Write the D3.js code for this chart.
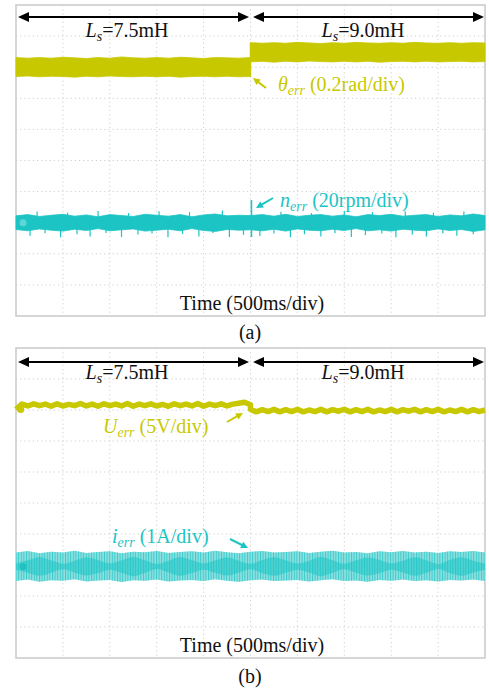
<!DOCTYPE html>
<html><head><meta charset="utf-8">
<script src="https://cdn.jsdelivr.net/npm/d3@7"></script>
<style>body{margin:0;background:#fff}svg{display:block}</style>
</head><body><script>
// ---------- DATA (values in oscilloscope divisions; x = time div, 500 ms/div) ----------
const tA = [0,0.25,0.5,0.75,1,1.25,1.5,1.75,2,2.25,2.5,2.75,3,3.25,3.5,3.75,4,4.25,4.5,4.75,5];
const tB = [5,5.25,5.5,5.75,6,6.25,6.5,6.75,7,7.25,7.5,7.75,8,8.25,8.5,8.75,9,9.25,9.5,9.75,10];
const tFull = tA.concat(tB.slice(1));
const tFineA = [0,0.125,0.25,0.375,0.5,0.625,0.75,0.875,1,1.125,1.25,1.375,1.5,1.625,1.75,1.875,2,2.125,2.25,2.375,2.5,2.625,2.75,2.875,3,3.125,3.25,3.375,3.5,3.625,3.75,3.875,4,4.125,4.25,4.375,4.5,4.625,4.75,4.875,5];
const tFineB = [5,5.125,5.25,5.375,5.5,5.625,5.75,5.875,6,6.125,6.25,6.375,6.5,6.625,6.75,6.875,7,7.125,7.25,7.375,7.5,7.625,7.75,7.875,8,8.125,8.25,8.375,8.5,8.625,8.75,8.875,9,9.125,9.25,9.375,9.5,9.625,9.75,9.875,10];

// (a) theta_err envelope, Ls = 7.5 mH then 9.0 mH
const thetaHiA = [3.31,3.29,3.31,3.29,3.32,3.30,3.28,3.31,3.29,3.33,3.30,3.29,3.31,3.29,3.32,3.30,3.28,3.31,3.30,3.29,3.31];
const thetaLoA = [2.70,2.72,2.69,2.71,2.70,2.68,2.71,2.69,2.72,2.70,2.69,2.71,2.69,2.71,2.68,2.70,2.71,2.69,2.71,2.69,2.70];
const thetaHiB = [3.79,3.77,3.79,3.77,3.80,3.78,3.76,3.79,3.77,3.80,3.78,3.77,3.79,3.77,3.80,3.78,3.77,3.79,3.77,3.79,3.78];
const thetaLoB = [3.17,3.19,3.16,3.19,3.17,3.20,3.18,3.17,3.19,3.17,3.19,3.16,3.18,3.19,3.17,3.19,3.17,3.18,3.19,3.17,3.18];

// (a) n_err: trace body envelope plus short spikes
const nHi = [-1.78,-1.74,-1.80,-1.76,-1.73,-1.79,-1.75,-1.81,-1.74,-1.77,-1.80,-1.73,-1.76,-1.79,-1.74,-1.81,-1.75,-1.72,-1.78,-1.76,-1.77,
             -1.74,-1.79,-1.73,-1.80,-1.76,-1.74,-1.79,-1.75,-1.81,-1.74,-1.77,-1.73,-1.79,-1.76,-1.74,-1.80,-1.75,-1.78,-1.72,-1.77];
const nLo = [-2.22,-2.26,-2.20,-2.24,-2.27,-2.21,-2.25,-2.19,-2.26,-2.23,-2.20,-2.27,-2.24,-2.21,-2.26,-2.19,-2.25,-2.28,-2.22,-2.24,-2.23,
             -2.26,-2.21,-2.27,-2.20,-2.24,-2.26,-2.21,-2.25,-2.19,-2.26,-2.23,-2.27,-2.21,-2.24,-2.26,-2.20,-2.25,-2.22,-2.28,-2.23];
const nDownT = [0.3,0.62,0.95,1.3,1.58,1.92,2.25,2.6,2.9,3.24,3.55,3.9,4.2,4.55,4.85,5.2,5.5,5.85,6.15,6.5,6.8,7.15,7.45,7.8,8.1,8.45,8.75,9.1,9.4,9.75];
const nDownV = [-2.42,-2.34,-2.47,-2.37,-2.44,-2.33,-2.46,-2.38,-2.35,-2.47,-2.36,-2.44,-2.33,-2.46,-2.39,-2.43,-2.35,-2.47,-2.37,-2.44,-2.34,-2.46,-2.40,-2.35,-2.47,-2.38,-2.44,-2.34,-2.42,-2.37];
const nUpT = [0.45,1.1,1.75,2.4,3.05,3.7,4.4,5.65,6.3,7.0,7.6,8.3,8.9,9.55];
const nUpV = [-1.64,-1.68,-1.62,-1.69,-1.63,-1.66,-1.61,-1.65,-1.69,-1.62,-1.66,-1.63,-1.68,-1.64];
const nSpikeT = [5.02];
const nSpikeHi = [-1.27];
const nSpikeLo = [-2.46];

// (b) U_err trace centre
const uA = [3.02,3.19,3.13,3.20,3.14,3.19,3.12,3.20,3.13,3.18,3.14,3.21,3.13,3.19,3.12,3.20,3.14,3.19,3.13,3.21,3.12,3.19,3.14,3.20,3.13,3.18,3.12,3.20,3.14,3.19,3.13,3.21,3.12,3.19,3.14,3.20,3.13,3.19,3.22,3.25,3.17];
const uB = [3.02,2.94,3.01,2.95,3.02,2.94,3.01,2.95,3.02,2.94,3.00,2.95,3.02,2.94,3.01,2.96,3.02,2.94,3.01,2.95,3.02,2.94,3.00,2.95,3.02,2.94,3.01,2.96,3.02,2.94,3.01,2.95,3.02,2.94,3.00,2.95,3.02,2.94,3.01,2.95,3.00];

// (b) i_err envelope (outer) and beating inner band half-width
const iHi = [-1.60,-1.55,-1.62,-1.57,-1.60,-1.54,-1.61,-1.58,-1.56,-1.62,-1.57,-1.59,-1.55,-1.61,-1.58,-1.56,-1.60,-1.54,-1.59,-1.62,-1.57,-1.55,-1.60,-1.58,-1.56,-1.61,-1.57,-1.54,-1.60,-1.58,-1.62,-1.56,-1.59,-1.55,-1.60,-1.57,-1.61,-1.56,-1.58,-1.55,-1.60];
const iLo = [-2.52,-2.47,-2.54,-2.49,-2.51,-2.46,-2.53,-2.50,-2.48,-2.55,-2.49,-2.51,-2.47,-2.53,-2.50,-2.48,-2.52,-2.46,-2.51,-2.54,-2.49,-2.47,-2.52,-2.50,-2.48,-2.53,-2.49,-2.46,-2.52,-2.50,-2.54,-2.48,-2.51,-2.47,-2.52,-2.49,-2.53,-2.48,-2.50,-2.47,-2.52];
const iMid = -2.05;
const iInnerW = [0.10,0.20,0.30,0.20,0.09,0.19,0.29,0.21,0.10,0.20,0.31,0.20,0.08,0.19,0.30,0.21,0.10,0.20,0.29,0.19,0.09,0.21,0.30,0.20,0.10,0.19,0.31,0.20,0.09,0.20,0.29,0.21,0.10,0.19,0.30,0.20,0.08,0.21,0.30,0.19,0.10];

// labels
const segLabels = ["7.5mH","9.0mH"];
const panelTags = ["(a)","(b)"];
const timeLabel = "Time (500ms/div)";

// ---------- DRAWING ----------
const YEL = "#c8c800", CYN = "#1cc4c4", CYN_L = "#8fe0e0";
const FONT = "'Liberation Serif','Times New Roman',serif";
const svg = d3.select("body").append("svg").attr("width",489).attr("height",694);
const defs = svg.append("defs");
const pat = defs.append("pattern").attr("id","stripes").attr("patternUnits","userSpaceOnUse")
  .attr("width",2.6).attr("height",10);
pat.append("rect").attr("width",1.0).attr("height",10).attr("fill","#3acbcb");

function arrowHead(g,x1,y1,x2,y2,color,len,half){
  const a=Math.atan2(y2-y1,x2-x1), c=Math.cos(a), s=Math.sin(a);
  const bx=x2-len*c, by=y2-len*s;
  g.append("path").attr("d",`M${x2},${y2}L${bx-half*s},${by+half*c}L${bx+half*s},${by-half*c}Z`).attr("fill",color);
}
function arrow(g,x1,y1,x2,y2,color,w,len,half,both){
  const a=Math.atan2(y2-y1,x2-x1), c=Math.cos(a), s=Math.sin(a);
  const sx = both? x1+len*0.8*c : x1, sy = both? y1+len*0.8*s : y1;
  g.append("line").attr("x1",sx).attr("y1",sy).attr("x2",x2-len*0.8*c).attr("y2",y2-len*0.8*s)
    .attr("stroke",color).attr("stroke-width",w);
  arrowHead(g,x1,y1,x2,y2,color,len,half);
  if(both) arrowHead(g,x2,y2,x1,y1,color,len,half);
}
function lsLabel(g,x,y,val){
  const t=g.append("text").attr("x",x).attr("y",y).attr("text-anchor","middle")
    .attr("font-family",FONT).attr("font-size",20).attr("fill","#111");
  t.append("tspan").attr("font-style","italic").text("L");
  t.append("tspan").attr("font-style","italic").attr("font-size",14).attr("dy",4).text("s");
  t.append("tspan").attr("dy",-4).text("="+val);
}
function subLabel(g,x,y,sym,sub,rest,color){
  const t=g.append("text").attr("x",x).attr("y",y).attr("font-family",FONT).attr("font-size",20).attr("fill",color);
  t.append("tspan").attr("font-style","italic").text(sym);
  t.append("tspan").attr("font-style","italic").attr("font-size",14).attr("dy",4).text(sub);
  t.append("tspan").attr("dy",-4).text(" "+rest);
}

function panel(y0,y1){
  const g = svg.append("g");
  const x = d3.scaleLinear().domain([0,10]).range([16,485]);
  const y = d3.scaleLinear().domain([-5,5]).range([y1,y0]);
  g.append("g").selectAll("line").data(d3.range(1,10)).join("line")
    .attr("x1",d=>x(d)).attr("x2",d=>x(d)).attr("y1",y0).attr("y2",y1)
    .attr("stroke","#cfcfcf").attr("stroke-width",1).attr("stroke-dasharray","1.2,3");
  g.append("g").selectAll("line").data(d3.range(-4,5)).join("line")
    .attr("y1",d=>y(d)).attr("y2",d=>y(d)).attr("x1",16).attr("x2",485)
    .attr("stroke","#cfcfcf").attr("stroke-width",1).attr("stroke-dasharray","1.2,3");
  g.append("rect").attr("x",16).attr("y",y0).attr("width",469).attr("height",y1-y0)
    .attr("fill","none").attr("stroke","#cccccc").attr("stroke-width",1.6);
  return {g,x,y};
}

// ===== Panel (a) =====
{
  const {g,x,y} = panel(5,316);
  const area = d3.area().x(d=>x(d.t)).y0(d=>y(d.lo)).y1(d=>y(d.hi));
  const thA = tA.map((t,i)=>({t,hi:thetaHiA[i],lo:thetaLoA[i]}));
  const thB = tB.map((t,i)=>({t,hi:thetaHiB[i],lo:thetaLoB[i]}));
  [thA,thB].forEach(d=>g.append("path").attr("d",area(d)).attr("fill",YEL).attr("stroke",YEL).attr("stroke-width",0.8));
  g.append("line").attr("x1",x(5)).attr("x2",x(5)).attr("y1",y(thetaHiB[0])).attr("y2",y(thetaLoA[20]))
    .attr("stroke",YEL).attr("stroke-width",1.5);

  const nd = tFull.map((t,i)=>({t,hi:nHi[i],lo:nLo[i]}));
  g.append("path").attr("d",area(nd)).attr("fill",CYN).attr("stroke",CYN).attr("stroke-width",0.8);
  const mid = -2.0;
  nDownT.forEach((t,i)=>g.append("line").attr("x1",x(t)).attr("x2",x(t)).attr("y1",y(mid)).attr("y2",y(nDownV[i]))
    .attr("stroke",CYN).attr("stroke-width",1.2));
  nUpT.forEach((t,i)=>g.append("line").attr("x1",x(t)).attr("x2",x(t)).attr("y1",y(mid)).attr("y2",y(nUpV[i]))
    .attr("stroke",CYN).attr("stroke-width",1.2));
  nSpikeT.forEach((t,i)=>g.append("line").attr("x1",x(t)).attr("x2",x(t)).attr("y1",y(nSpikeHi[i])).attr("y2",y(nSpikeLo[i]))
    .attr("stroke",CYN).attr("stroke-width",1.6));
  g.append("circle").attr("cx",x(0.15)).attr("cy",y(mid)).attr("r",3.5).attr("fill","#5fd6d6");

  arrow(g,18,17,249,17,"#000",2,11,5,true);
  arrow(g,253,17,484,17,"#000",2,11,5,true);
  lsLabel(g,127,37,segLabels[0]);
  lsLabel(g,363,37,segLabels[1]);

  arrow(g,266,88,253,78,YEL,2,7,3.5,false);
  subLabel(g,278,91,"θ","err","(0.2rad/div)",YEL);
  arrow(g,273,198,256,208,CYN,2,7,3.5,false);
  subLabel(g,280,207,"n","err","(20rpm/div)",CYN);

  g.append("text").attr("x",252).attr("y",310).attr("text-anchor","middle").attr("font-family",FONT)
    .attr("font-size",20).attr("fill","#111").text(timeLabel);
  g.append("text").attr("x",250).attr("y",339).attr("text-anchor","middle").attr("font-family",FONT)
    .attr("font-size",20).attr("fill","#111").text(panelTags[0]);
}

// ===== Panel (b) =====
{
  const {g,x,y} = panel(348,658);
  const ud = tFineA.map((t,i)=>({t,v:uA[i]})).concat(tFineB.map((t,i)=>({t,v:uB[i]})));
  g.append("path").attr("d",d3.line().x(d=>x(d.t)).y(d=>y(d.v))(ud))
    .attr("fill","none").attr("stroke",YEL).attr("stroke-width",5.5).attr("stroke-linejoin","round");
  g.append("circle").attr("cx",x(0.1)).attr("cy",y(uA[0])).attr("r",3.5).attr("fill",YEL);

  const area = d3.area().x(d=>x(d.t)).y0(d=>y(d.lo)).y1(d=>y(d.hi));
  const outer = tFull.map((t,i)=>({t,hi:iHi[i],lo:iLo[i]}));
  const inner = tFull.map((t,i)=>({t,hi:iMid+iInnerW[i],lo:iMid-iInnerW[i]}));
  g.append("path").attr("d",area(outer)).attr("fill",CYN_L);
  g.append("path").attr("d",area(outer)).attr("fill","url(#stripes)");
  g.append("path").attr("d",area.curve(d3.curveMonotoneX)(inner)).attr("fill",CYN).attr("opacity",0.55);
  g.append("circle").attr("cx",x(0.15)).attr("cy",y(iMid)).attr("r",3.5).attr("fill","#22c0c0");

  arrow(g,18,362,249,362,"#000",2,11,5,true);
  arrow(g,253,362,484,362,"#000",2,11,5,true);
  lsLabel(g,127,379,segLabels[0]);
  lsLabel(g,363,379,segLabels[1]);

  arrow(g,227,422,243,413,YEL,2,7,3.5,false);
  subLabel(g,103,433,"U","err","(5V/div)",YEL);
  arrow(g,230,539,248,548,CYN,2,7,3.5,false);
  subLabel(g,112,543,"i","err","(1A/div)",CYN);

  g.append("text").attr("x",252).attr("y",652).attr("text-anchor","middle").attr("font-family",FONT)
    .attr("font-size",20).attr("fill","#111").text(timeLabel);
  g.append("text").attr("x",250).attr("y",683).attr("text-anchor","middle").attr("font-family",FONT)
    .attr("font-size",20).attr("fill","#111").text(panelTags[1]);
}
</script></body></html>
